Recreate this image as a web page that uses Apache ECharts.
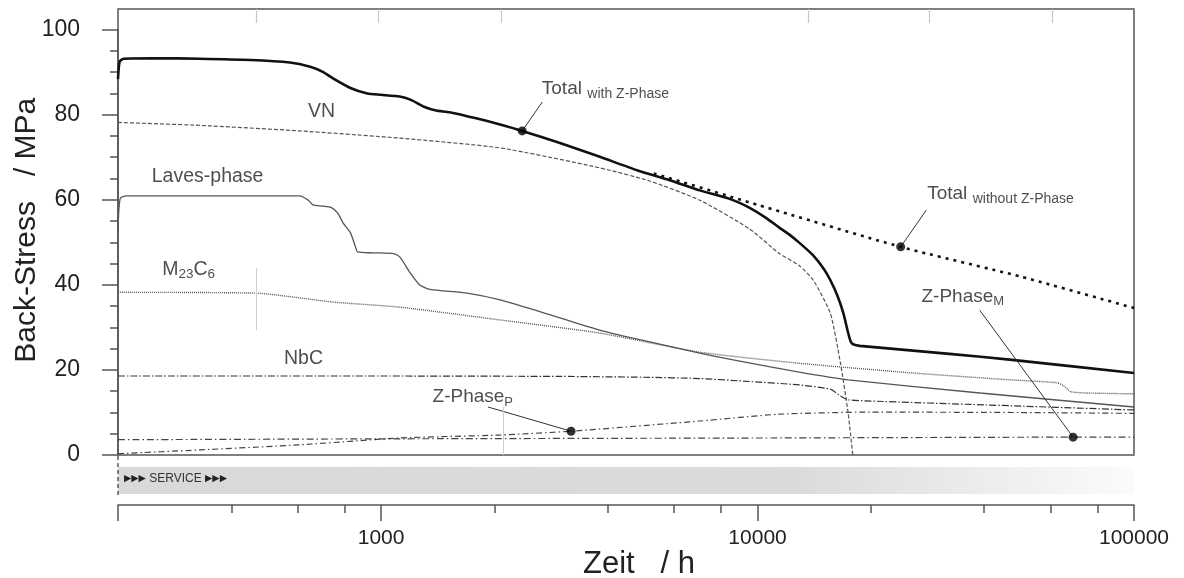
<!DOCTYPE html>
<html>
<head>
<meta charset="utf-8">
<title>Back-Stress</title>
<script src="https://cdn.jsdelivr.net/npm/echarts@6/dist/echarts.min.js"></script>
<style>
  html, body { margin: 0; padding: 0; background: #fff; }
  #chart { width: 1184px; height: 578px; }
</style>
</head>
<body>
<div id="chart"></div>
<script>
// Back-Stress (MPa) gegen Zeit (h), log. Zeitachse
const totalWithZ = [
  [200, 88.5], [202, 92.6], [207, 93.3], [250, 93.4], [330, 93.3], [450, 93.0],
  [572, 92.4], [648, 91.4], [700, 90.2], [747, 88.6], [829, 86.4], [919, 85.1],
  [1000, 84.8], [1120, 84.4], [1200, 83.6], [1300, 82.0], [1400, 81.1], [1520, 80.7],
  [1800, 79.2], [2070, 77.8], [2370, 76.3], [3000, 73.4], [3810, 70.2], [4800, 67.0],
  [5840, 64.7], [7020, 62.3], [8430, 60.3], [9530, 58.2], [10500, 55.9], [11400, 53.6],
  [12100, 52.0], [12900, 50.0], [14050, 47.0], [15000, 43.8], [15600, 41.2], [16300, 37.5],
  [16900, 33.4], [17400, 28.8], [17700, 26.6], [18000, 26.0], [18700, 25.7],
  [32300, 23.8], [47400, 22.4], [100000, 19.3]
];
const totalWithoutZ = [[5300, 66.3], [10000, 58.9], [24000, 49.0], [50000, 42.0], [100000, 34.6]];
const vn = [
  [200, 78.3], [330, 77.6], [608, 76.3], [1120, 74.6], [2070, 72.3], [3810, 67.6],
  [5170, 64.5], [7020, 60.0], [9530, 53.2], [11400, 47.5], [12900, 44.6], [14050, 41.2],
  [15600, 33.4], [16600, 21.7], [17400, 9.9], [17900, 0]
];
const laves = [
  [200, 52.5], [201, 57.5], [203, 60.5], [210, 61.0], [608, 61.0], [640, 60.0], [659, 58.9],
  [701, 58.6], [736, 58.3], [766, 57.0], [793, 54.6], [829, 52.3], [855, 49.0], [866, 47.8],
  [950, 47.6], [1080, 47.4], [1122, 46.6], [1196, 42.8], [1267, 40.0], [1348, 39.0],
  [1692, 38.1], [2070, 36.5], [2816, 33.0], [3810, 29.4], [4670, 27.5], [7020, 24.0],
  [8620, 22.4], [12900, 19.5], [17400, 17.7], [39000, 14.6], [100000, 11.3]
];
const m23c6 = [
  [200, 38.3], [466, 38.1], [747, 36.0], [1122, 34.8], [2070, 31.8], [3810, 28.7],
  [7020, 24.2], [12900, 21.6], [25900, 19.3], [45000, 17.8], [62500, 17.0], [65000, 16.3],
  [67900, 14.9], [75000, 14.6], [100000, 14.4]
];
const nbc = [
  [200, 18.6], [1000, 18.6], [3000, 18.5], [5000, 18.3], [7020, 18.0], [9530, 17.3],
  [12900, 16.5], [15600, 15.5], [16600, 13.9], [17400, 13.0], [20000, 12.7], [40000, 11.8],
  [100000, 10.6]
];
const zPhaseP = [
  [200, 0.3], [330, 1.2], [608, 2.4], [1122, 4.0], [2070, 4.7], [3196, 5.6], [7020, 8.0],
  [11400, 9.6], [20000, 10.1], [50000, 10.0], [100000, 9.8]
];
const zPhaseM = [[200, 3.6], [1000, 3.8], [10000, 4.0], [68900, 4.2], [100000, 4.2]];
const markers = [[2370, 76.3], [24000, 49.0], [3196, 5.6], [68900, 4.2]];

const xTicksMajor = [200, 1000, 10000, 100000];
const xTicksMinor = [400, 600, 800, 2000, 4000, 6000, 8000, 20000, 40000, 60000, 80000];
const xLabels = [1000, 10000, 100000];
const topTicks = [466, 985, 2085, 13600, 28600, 60800];

// Beschriftungen (Zeit, MPa)
const labels = [
  { text: 'VN', at: [697, 80.7], align: 'center' },
  { text: 'Laves-phase', at: [347, 65.4], align: 'center' },
  { text: 'M{s|23}C{s|6}', at: [263, 43.5], align: 'left' },
  { text: 'NbC', at: [624, 22.5], align: 'center' },
  { text: '{b|Total} {t|with Z-Phase}', at: [2680, 86.0], align: 'left' },
  { text: '{b|Total} {t|without Z-Phase}', at: [28300, 61.3], align: 'left' },
  { text: '{b|Z-Phase}{p|P}', at: [1374, 13.5], align: 'left' },
  { text: '{b|Z-Phase}{p|M}', at: [27340, 37.1], align: 'left' }
];
const leaders = [
  [[2680, 83.1], [2370, 76.3]],
  [[28100, 57.7], [24000, 49.0]],
  [[1923, 11.3], [3196, 5.6]],
  [[38900, 34.1], [68900, 4.2]]
];
const faint = [
  [[466, 44.0], [466, 29.4]],
  [[2110, 11.3], [2110, 0]]
];

const FONT = '"Liberation Sans", Arial, sans-serif';
const AX = '#555';

const chart = echarts.init(document.getElementById('chart'));

function curve(name, data, color, width, type, z) {
  return {
    name, type: 'line', data, xAxisIndex: 0, yAxisIndex: 0,
    showSymbol: false, symbol: 'none', smooth: 0.2,
    lineStyle: { color, width, type }, z: z || 2, silent: true
  };
}

const option = {
  animation: false,
  backgroundColor: '#fff',
  textStyle: { fontFamily: FONT },
  grid: [
    { left: 118, right: 50, top: 9, bottom: 123, show: true, borderColor: AX, borderWidth: 1.5, outerBoundsMode: 'none' },
    { left: 118, right: 50, top: 29.5, bottom: 123, outerBoundsMode: 'none' }
  ],
  xAxis: [
    { gridIndex: 0, type: 'log', min: 200, max: 100000, show: false },
    {
      gridIndex: 0, type: 'log', min: 200, max: 100000, position: 'bottom', offset: 50,
      axisLine: { show: true, lineStyle: { color: AX, width: 1.5 } },
      axisTick: { show: true, customValues: xTicksMajor, length: 16, lineStyle: { color: AX, width: 1.5 } },
      axisLabel: { customValues: xLabels, fontSize: 21, color: '#222', margin: 23, fontFamily: FONT, formatter: v => String(v) },
      splitLine: { show: false },
      name: 'Zeit   / h', nameLocation: 'middle', nameGap: 44, nameMoveOverlap: false,
      nameTextStyle: { fontSize: 31, color: '#222', fontFamily: FONT, padding: [0, 0, 0, 26] }
    },
    {
      gridIndex: 0, type: 'log', min: 200, max: 100000, position: 'bottom', offset: 50,
      axisLine: { show: false },
      axisTick: { show: true, customValues: xTicksMinor, length: 8, lineStyle: { color: AX, width: 1.5 } },
      axisLabel: { show: false }, splitLine: { show: false }
    },
    {
      gridIndex: 0, type: 'log', min: 200, max: 100000, position: 'top',
      axisLine: { show: false },
      axisTick: { show: true, inside: true, customValues: topTicks, length: 14, lineStyle: { color: '#c8c8c8', width: 1.2 } },
      axisLabel: { show: false }, splitLine: { show: false }
    },
    { gridIndex: 1, type: 'value', show: false }
  ],
  yAxis: [
    { gridIndex: 0, type: 'value', min: 0, max: 105, show: false },
    {
      gridIndex: 1, type: 'value', min: 0, max: 100, interval: 20, offset: 11,
      axisLine: { show: true, lineStyle: { color: AX, width: 1.5 } },
      axisTick: { show: true, length: 16, lineStyle: { color: AX, width: 1.5 } },
      minorTick: { show: true, splitNumber: 4, length: 8, lineStyle: { color: AX, width: 1.5 } },
      splitLine: { show: false }, minorSplitLine: { show: false },
      axisLabel: { fontSize: 23, color: '#222', margin: 27, fontFamily: FONT },
      name: 'Back-Stress   / MPa', nameLocation: 'middle', nameGap: 65, nameMoveOverlap: false,
      nameTextStyle: { fontSize: 30, color: '#222', fontFamily: FONT, padding: [0, 0, 0, 24] }
    }
  ],
  graphic: [
    {
      type: 'rect', shape: { x: 118, y: 467, width: 1016, height: 27 }, silent: true,
      style: {
        fill: new echarts.graphic.LinearGradient(0, 0, 1, 0, [
          { offset: 0, color: '#d9d9d9' }, { offset: 0.66, color: '#dadada' }, { offset: 1, color: '#fbfbfb' }
        ])
      }
    },
    { type: 'line', shape: { x1: 118, y1: 456, x2: 118, y2: 495 }, style: { stroke: '#333', lineWidth: 1.2, lineDash: [4, 3] }, silent: true },
    {
      type: 'text', left: 124, top: 473, silent: true,
      style: {
        text: '{a|\u25B6\u25B6\u25B6} SERVICE {a|\u25B6\u25B6\u25B6}',
        fill: '#333', fontSize: 12, fontFamily: FONT,
        rich: { a: { fontSize: 9.5, fontFamily: '"DejaVu Sans"', fill: '#222' } }
      }
    }
  ],
  series: [
    curve('Z-Phase M', zPhaseM, '#444', 1.2, [7, 3, 1.5, 3]),
    curve('Z-Phase P', zPhaseP, '#444', 1.2, [6, 3, 1.5, 3]),
    curve('NbC', nbc, '#333', 1.2, [7, 2, 1.5, 2]),
    curve('M23C6', m23c6, '#555', 1.4, [1, 1]),
    curve('Laves-phase', laves, '#555', 1.3, 'solid'),
    curve('VN', vn, '#555', 1.2, [4, 2]),
    curve('Total without Z-Phase', totalWithoutZ, '#111', 2.6, [3, 5], 3),
    curve('Total with Z-Phase', totalWithZ, '#111', 2.6, 'solid', 4),
    {
      name: 'Marker', type: 'scatter', data: markers, xAxisIndex: 0, yAxisIndex: 0,
      symbolSize: 9, itemStyle: { color: '#000' }, z: 6, silent: true,
      markLine: {
        silent: true, symbol: 'none', animation: false,
        label: { show: false },
        lineStyle: { color: '#333', width: 1, type: 'solid' },
        data: leaders.map(l => [{ coord: l[0] }, { coord: l[1] }])
          .concat(faint.map(l => [{ coord: l[0], lineStyle: { color: '#cfcfcf', width: 1 } }, { coord: l[1] }]))
      }
    },
    {
      name: 'Labels', type: 'scatter', xAxisIndex: 0, yAxisIndex: 0, symbolSize: 1, z: 7, silent: true,
      itemStyle: { color: 'rgba(0,0,0,0)' },
      data: labels.map(l => ({
        value: l.at,
        label: {
          show: true, position: [0, 0], formatter: l.text, align: l.align, verticalAlign: 'middle',
          fontSize: 19.5, color: '#222', fontFamily: FONT,
          rich: {
            s: { fontSize: 13.5, padding: [10, 0, 0, 0], color: '#222', fontFamily: FONT },
            b: { fontSize: 19, color: '#222', fontFamily: FONT },
            t: { fontSize: 14, padding: [10, 0, 0, 0], color: '#222', fontFamily: FONT },
            p: { fontSize: 13, padding: [10, 0, 0, 0], color: '#222', fontFamily: FONT }
          }
        }
      }))
    }
  ]
};

chart.setOption(option);
</script>
</body>
</html>
